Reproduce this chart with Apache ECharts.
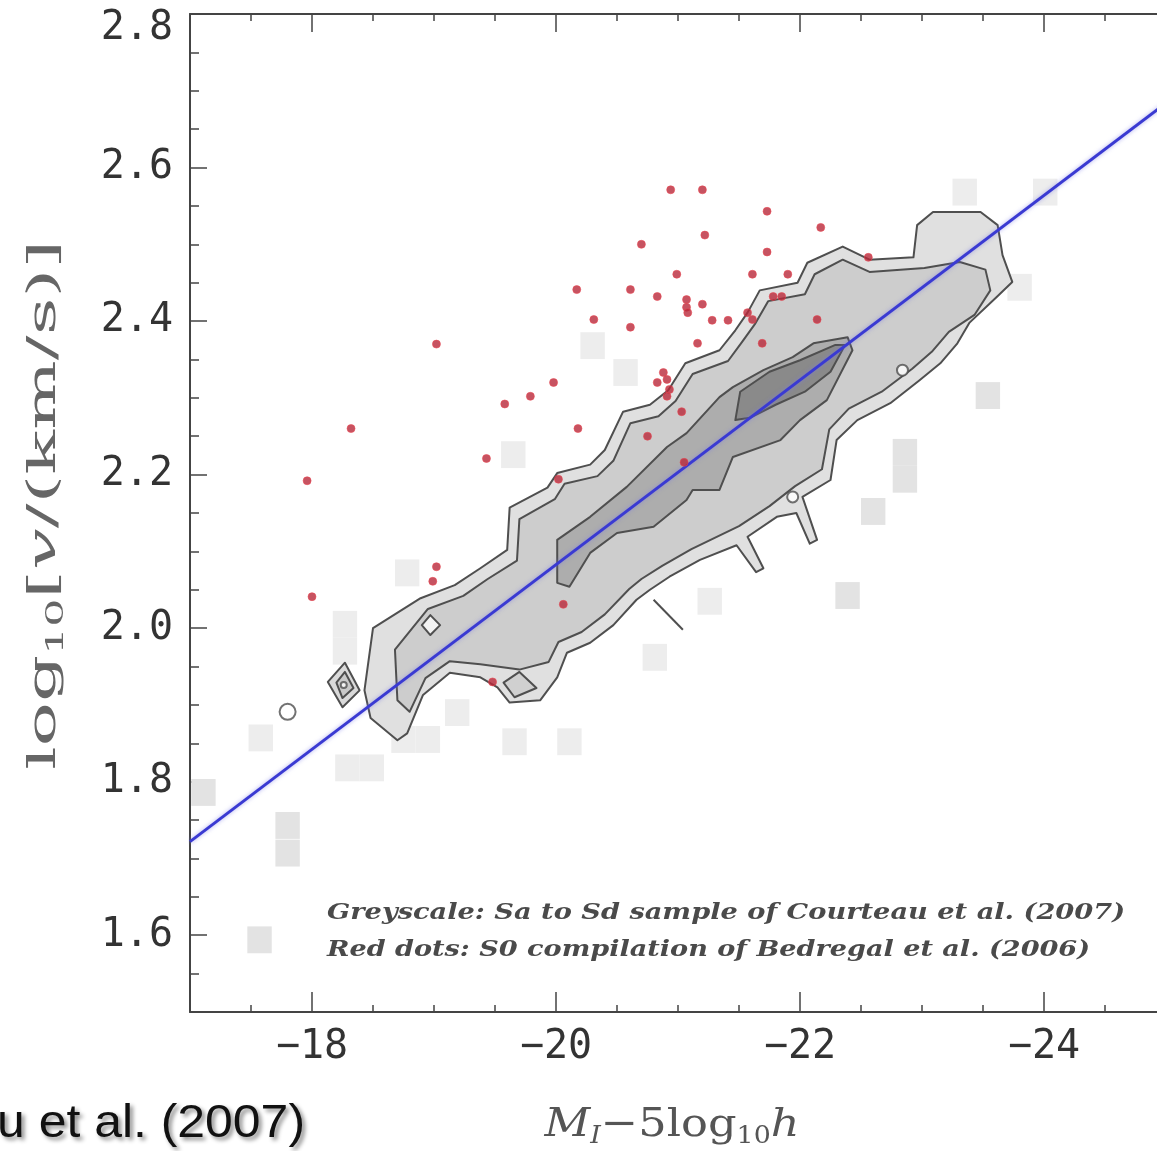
<!DOCTYPE html>
<html><head><meta charset="utf-8">
<script src="https://cdn.jsdelivr.net/npm/echarts@6/dist/echarts.min.js"></script>
<style>html,body{margin:0;padding:0;background:#fff}#c{width:1157px;height:1151px}</style>
</head><body><div id="c"></div>
<script>
// ---------- data (axis units: x = M_I - 5log10 h, y = log10 v) ----------
const xMajorTicks = [-24, -22, -20, -18];
const yMajorTicks = [1.6, 1.8, 2.0, 2.2, 2.4, 2.6, 2.8];

const fitLine = [[-17, 1.722], [-25, 2.684]];

const redDots = [
  [-17.96,2.192],[-18.00,2.041],[-18.32,2.260],[-19.02,2.370],[-19.02,2.080],[-18.99,2.061],
  [-19.43,2.221],[-19.58,2.292],[-19.79,2.302],[-19.98,2.320],[-20.18,2.260],[-20.02,2.194],
  [-20.17,2.441],[-20.31,2.402],[-20.61,2.441],[-20.61,2.392],[-20.70,2.500],[-20.83,2.432],
  [-20.94,2.571],[-21.20,2.571],[-20.99,2.461],[-21.22,2.512],[-21.07,2.428],[-21.07,2.418],
  [-21.08,2.411],[-21.20,2.422],[-21.28,2.401],[-21.41,2.401],[-21.57,2.411],[-21.61,2.402],
  [-21.73,2.543],[-21.73,2.490],[-21.61,2.461],[-21.90,2.461],[-21.78,2.432],[-21.85,2.432],
  [-22.17,2.522],[-21.16,2.371],[-21.69,2.371],[-20.88,2.333],[-20.91,2.324],[-20.83,2.320],
  [-20.93,2.311],[-20.91,2.302],[-21.03,2.282],[-20.75,2.250],[-20.06,2.031],[-19.48,1.930],
  [-22.56,2.483],[-22.14,2.402],[-21.05,2.216]
];

// greyscale histogram cells: [x centre, y centre, shade level]
const greyCells = [
  [-17.11,1.786,2],[-17.58,1.857,1],[-17.80,1.743,2],[-17.80,1.707,2],[-17.57,1.594,2],
  [-18.27,2.005,1],[-18.27,1.970,1],[-18.29,1.818,1],[-18.49,1.818,1],[-18.75,1.855,1],
  [-18.95,1.855,1],[-19.19,1.890,1],[-19.66,1.852,1],[-20.11,1.852,1],[-20.81,1.962,1],
  [-18.78,2.072,1],[-19.65,2.226,1],[-20.30,2.368,1],[-20.57,2.333,1],[-23.54,2.303,2],
  [-22.86,2.229,2],[-22.86,2.194,2],[-22.60,2.152,2],[-22.39,2.0425,2],[-23.35,2.568,1],
  [-24.01,2.568,1],[-21.26,2.035,1],[-23.80,2.444,1]
];
const cellWidth = 0.2, cellHeight = 0.035;

const contourOuter = [
  [-18.70,1.854],[-18.48,1.883],[-18.43,1.919],[-18.50,2.000],[-18.89,2.039],[-19.17,2.056],
  [-19.38,2.078],[-19.60,2.102],[-19.62,2.157],[-19.93,2.183],[-20.01,2.202],[-20.28,2.213],
  [-20.40,2.232],[-20.55,2.282],[-20.77,2.291],[-20.92,2.310],[-21.06,2.345],[-21.34,2.362],
  [-21.47,2.388],[-21.57,2.411],[-21.67,2.440],[-21.98,2.450],[-22.06,2.476],[-22.35,2.497],
  [-22.57,2.480],[-22.93,2.483],[-22.96,2.525],[-23.09,2.542],[-23.48,2.542],[-23.62,2.525],
  [-23.66,2.486],[-23.74,2.451],[-23.61,2.431],[-23.39,2.398],[-23.29,2.371],[-23.15,2.345],
  [-22.98,2.323],[-22.74,2.293],[-22.47,2.271],[-22.30,2.245],[-22.25,2.193],[-22.02,2.171],
  [-22.14,2.115],[-22.08,2.110],[-21.97,2.150],[-21.81,2.145],[-21.57,2.119],[-21.70,2.078],
  [-21.64,2.073],[-21.48,2.108],[-21.18,2.089],[-20.93,2.067],[-20.77,2.050],[-20.66,2.037],
  [-20.47,2.004],[-20.28,1.981],[-20.09,1.968],[-20.01,1.936],[-19.87,1.906],[-19.62,1.903],
  [-19.52,1.923],[-19.38,1.936],[-19.13,1.942],[-18.91,1.913],[-18.78,1.863]
];
const contourLevel2 = [
  [-18.68,1.972],[-18.95,2.025],[-19.24,2.042],[-19.44,2.064],[-19.68,2.088],[-19.70,2.142],
  [-19.99,2.168],[-20.07,2.188],[-20.34,2.198],[-20.47,2.218],[-20.61,2.267],[-20.84,2.276],
  [-20.98,2.296],[-21.12,2.331],[-21.41,2.348],[-21.53,2.374],[-21.63,2.396],[-21.74,2.426],
  [-22.04,2.435],[-22.12,2.461],[-22.35,2.480],[-22.57,2.464],[-23.02,2.469],[-23.31,2.477],
  [-23.52,2.467],[-23.56,2.440],[-23.43,2.408],[-23.22,2.386],[-23.08,2.360],[-22.92,2.338],
  [-22.67,2.308],[-22.40,2.286],[-22.24,2.259],[-22.18,2.207],[-21.96,2.185],[-21.75,2.159],
  [-21.50,2.133],[-21.11,2.103],[-20.87,2.081],[-20.70,2.064],[-20.60,2.051],[-20.40,2.018],
  [-20.21,1.995],[-20.02,1.982],[-19.94,1.956],[-19.70,1.946],[-19.38,1.953],[-19.13,1.957],
  [-18.93,1.935],[-18.80,1.891],[-18.70,1.906]
];
const contourLevel3 = [
  [-20.01,2.115],[-20.28,2.145],[-20.58,2.184],[-20.91,2.236],[-21.07,2.254],[-21.34,2.301],
  [-21.45,2.314],[-21.70,2.336],[-21.94,2.353],[-22.11,2.371],[-22.39,2.379],[-22.43,2.362],
  [-22.22,2.297],[-22.00,2.271],[-21.84,2.245],[-21.45,2.223],[-21.34,2.180],[-21.12,2.180],
  [-21.07,2.167],[-20.80,2.132],[-20.50,2.124],[-20.28,2.098],[-20.11,2.054],[-20.01,2.059]
];
const contourCore = [
  [-21.51,2.308],[-21.75,2.334],[-22.00,2.349],[-22.29,2.369],[-22.37,2.369],[-22.25,2.334],
  [-22.04,2.308],[-21.80,2.291],[-21.59,2.274],[-21.47,2.271]
];
const islandDiamondOuter = [[-18.13,1.930],[-18.27,1.955],[-18.39,1.919],[-18.25,1.897]];
const islandDiamondInner = [[-18.20,1.929],[-18.27,1.943],[-18.34,1.922],[-18.25,1.909]];
const islandSmallDiamond = [[-18.90,2.004],[-18.97,2.017],[-19.05,2.004],[-18.97,1.991]];
const islandLowerDiamond = [[-19.57,1.929],[-19.70,1.943],[-19.84,1.922],[-19.66,1.910]];
const spikeLine = [[-20.80,2.037],[-21.04,1.998]];
const ringsLarge = [[-17.80,1.891]];
const ringsSmall = [[-22.84,2.336],[-21.94,2.171]];
const ringsTiny = [[-18.26,1.926]];

const noteLine1 = 'Greyscale: Sa to Sd sample of Courteau et al. (2007)';
const noteLine2 = 'Red dots: S0 compilation of Bedregal et al. (2006)';
const cornerText = 'u et al. (2007)';

// ---------- rendering ----------
const shapes = [contourOuter, contourLevel2, contourLevel3, contourCore,
  islandDiamondOuter, islandDiamondInner, islandSmallDiamond, islandLowerDiamond];
const shapeFills = ['#e0e0e0', '#cdcdcd', '#adadad', '#8a8a8a', '#dadada', '#c9c9c9', '#f2f2f2', '#d0d0d0'];
const cellColors = {1: '#ededed', 2: '#e3e3e3'};

const mctx = document.createElement('canvas').getContext('2d');
function measure(t, f) { mctx.font = f; return mctx.measureText(t).width; }
function segGroup(segs, cx, cy, targetLen, rot, fill) {
  let tot = 0; const pos = [];
  segs.forEach(s => { pos.push(tot); tot += measure(s.t, s.f); });
  const children = segs.map((s, i) => ({
    type: 'text', x: pos[i] - tot / 2, y: s.dy || 0,
    style: { text: s.t, font: s.f, fill: fill, align: 'left', verticalAlign: 'middle', textAlign: 'left', textVerticalAlign: 'middle' }
  }));
  return { type: 'group', x: cx, y: cy, rotation: rot, scaleX: targetLen / tot, children: children, silent: true };
}
function stretchedText(text, font, left, cy, targetLen, fill, extra) {
  const w = measure(text, font);
  return { type: 'text', x: left, y: cy, scaleX: targetLen / w, silent: true,
    style: Object.assign({ text: text, font: font, fill: fill, align: 'left', verticalAlign: 'middle', textAlign: 'left', textVerticalAlign: 'middle' }, extra || {}) };
}

const serif = '"DejaVu Serif"';
const yTitle = segGroup([
  { t: 'log', f: '40px ' + serif },
  { t: '10', f: '24px ' + serif, dy: 12 },
  { t: '[', f: '40px ' + serif },
  { t: 'v', f: 'italic 40px ' + serif },
  { t: '/(km/s)]', f: '40px ' + serif }
], 45, 505, 530, Math.PI / 2, '#666');
const xTitle = segGroup([
  { t: 'M', f: 'italic 40px ' + serif },
  { t: 'I', f: 'italic 24px ' + serif, dy: 11 },
  { t: '\u22125log', f: '40px ' + serif },
  { t: '10', f: '24px ' + serif, dy: 11 },
  { t: 'h', f: 'italic 40px ' + serif }
], 672, 1126, 255, 0, '#555');

const noteFont = 'italic bold 23px ' + serif;
const graphics = [
  yTitle, xTitle,
  stretchedText(noteLine1, noteFont, 327, 913, 798, '#4a4a4a'),
  stretchedText(noteLine2, noteFont, 327, 950, 763, '#4a4a4a'),
  stretchedText(cornerText, '46px "Liberation Sans"', -3, 1124, 308, '#111',
    { textShadowColor: 'rgba(0,0,0,0.45)', textShadowBlur: 4, textShadowOffsetX: 3, textShadowOffsetY: 3 })
];

const axisColor = '#444';
const tickStyle = { color: axisColor, width: 1.5 };
const labelFont = { fontFamily: '"DejaVu Sans Mono"', fontSize: 40, color: '#333' };
const X_MIN = -26, X_MAX = -17, Y_MIN = 1.5, Y_MAX = 2.8;

function xAx(pos, major, withLine, withLabel) {
  return {
    type: 'value', position: pos, min: X_MIN, max: X_MAX, inverse: true, interval: 0.5,
    axisLine: { show: withLine, onZero: false, lineStyle: { color: axisColor, width: 2 } },
    axisTick: major ? { show: true, inside: true, length: pos === 'top' ? 18 : 20, customValues: xMajorTicks, lineStyle: tickStyle }
                    : { show: true, inside: true, length: 7, lineStyle: tickStyle },
    axisLabel: withLabel ? Object.assign({ show: true, customValues: xMajorTicks, margin: 16,
      formatter: v => '\u2212' + Math.abs(v) }, labelFont) : { show: false },
    splitLine: { show: false }
  };
}
function yAx(major, withLine, withLabel) {
  return {
    type: 'value', position: 'left', min: Y_MIN, max: Y_MAX, interval: 0.05,
    axisLine: { show: withLine, onZero: false, lineStyle: { color: axisColor, width: 2 } },
    axisTick: major ? { show: true, inside: true, length: 17, customValues: yMajorTicks, lineStyle: tickStyle }
                    : { show: true, inside: true, length: 9, lineStyle: tickStyle },
    axisLabel: withLabel ? Object.assign({ show: true, customValues: yMajorTicks, margin: 17,
      formatter: v => (Math.abs(v - 2.8) < 1e-6 ? '{t|2.8}' : v.toFixed(1)),
      rich: { t: Object.assign({ padding: [30, 0, 0, 0] }, labelFont) } }, labelFont) : { show: false },
    splitLine: { show: false }
  };
}

const chart = echarts.init(document.getElementById('c'), null, { renderer: 'canvas' });
chart.setOption({
  animation: false,
  backgroundColor: '#fff',
  grid: { left: 190, top: 14, width: 1098, height: 998, outerBoundsMode: 'none', containLabel: false },
  xAxis: [xAx('bottom', false, true, true), xAx('bottom', true, false, false), xAx('top', false, true, false), xAx('top', true, false, false)],
  yAxis: [yAx(false, true, true), yAx(true, false, false)],
  graphic: graphics,
  series: [
    {
      type: 'custom', name: 'cells', z: 1, clip: true, silent: true,
      data: greyCells,
      encode: { x: 0, y: 1 },
      renderItem: function (params, api) {
        const x = api.value(0), y = api.value(1), s = api.value(2);
        const p1 = api.coord([x - cellWidth / 2, y + cellHeight / 2]);
        const p2 = api.coord([x + cellWidth / 2, y - cellHeight / 2]);
        return { type: 'rect', shape: { x: Math.min(p1[0], p2[0]), y: Math.min(p1[1], p2[1]),
          width: Math.abs(p2[0] - p1[0]), height: Math.abs(p2[1] - p1[1]) },
          style: { fill: cellColors[s] } };
      }
    },
    {
      type: 'custom', name: 'contours', z: 2, clip: true, silent: true,
      data: shapes.map((p, i) => [p[0][0], p[0][1], i]),
      encode: { x: 0, y: 1 },
      renderItem: function (params, api) {
        const i = api.value(2);
        const pts = shapes[i].map(p => api.coord(p));
        return { type: 'polygon', shape: { points: pts },
          style: { fill: shapeFills[i], stroke: '#4f4f4f', lineWidth: 2, lineJoin: 'round' } };
      }
    },
    { type: 'line', data: spikeLine, z: 3, symbol: 'none', silent: true, lineStyle: { color: '#4f4f4f', width: 2 } },
    { type: 'scatter', data: ringsLarge, z: 3, symbol: 'emptyCircle', symbolSize: 16, silent: true, itemStyle: { color: '#4f4f4f', borderWidth: 2.5 } },
    { type: 'scatter', data: ringsSmall, z: 3, symbol: 'emptyCircle', symbolSize: 11, silent: true, itemStyle: { color: '#4f4f4f', borderWidth: 2 } },
    { type: 'scatter', data: ringsTiny, z: 3, symbol: 'emptyCircle', symbolSize: 6, silent: true, itemStyle: { color: '#4f4f4f', borderWidth: 1.5 } },
    { type: 'line', data: fitLine, z: 4, symbol: 'none', silent: true,
      lineStyle: { color: '#3a3ad2', width: 3, shadowColor: 'rgba(120,120,230,0.6)', shadowBlur: 4 } },
    { type: 'scatter', data: redDots, z: 5, symbol: 'circle', symbolSize: 8, silent: true,
      itemStyle: { color: '#b8283a', borderColor: 'rgba(235,70,80,0.7)', borderWidth: 1 } }
  ]
});
</script>
</body></html>
